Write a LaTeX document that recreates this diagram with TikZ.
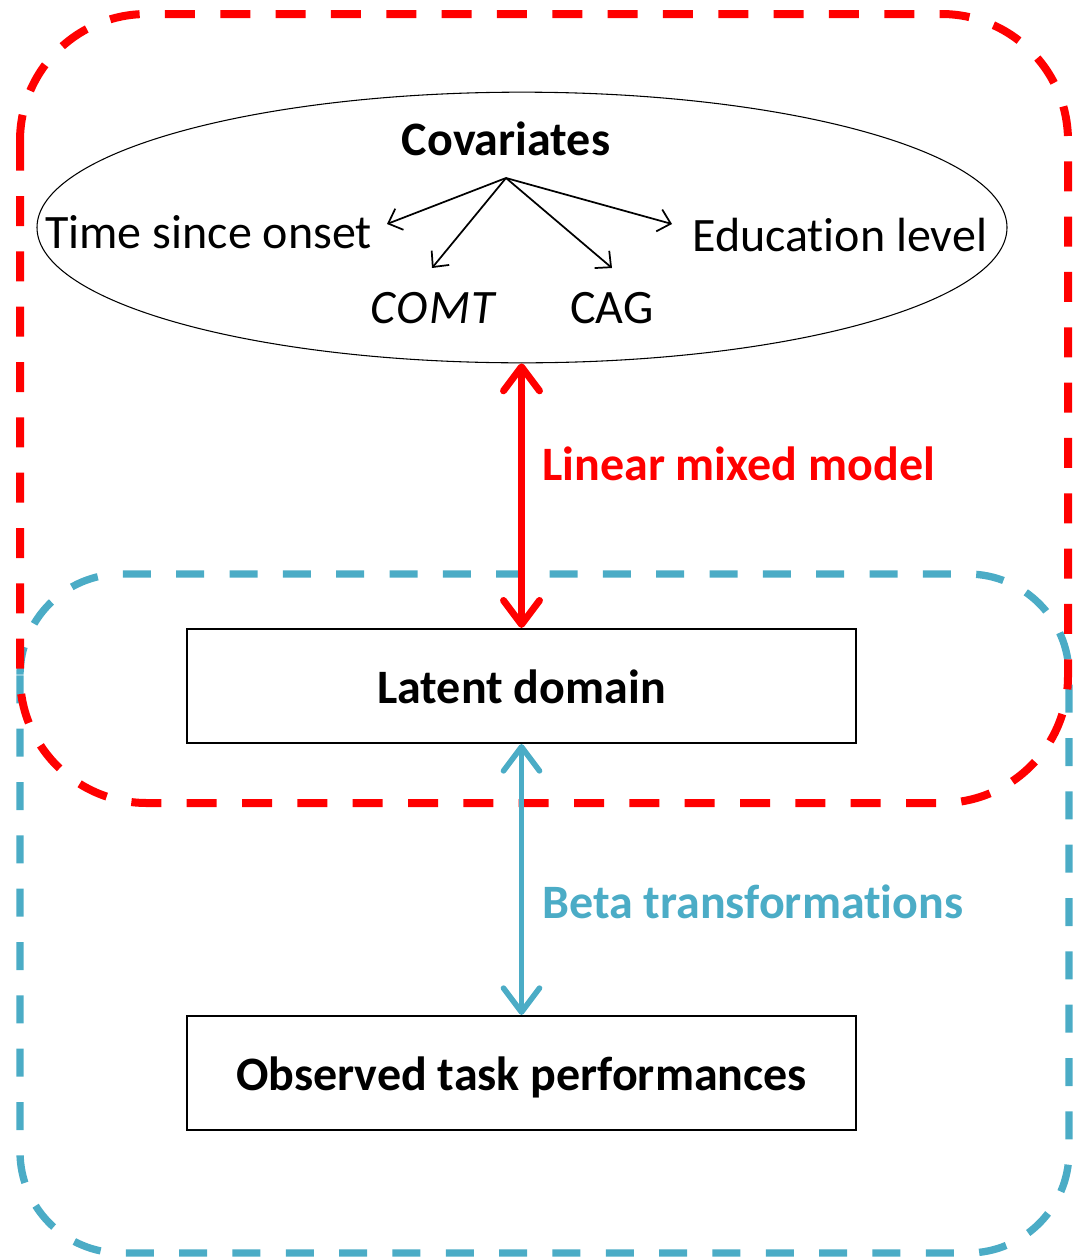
\documentclass[tikz,border=0pt]{standalone}
\usepackage{fontspec}
\setmainfont[Ligatures={NoCommon,NoRare},RawFeature={-liga;-clig;-dlig}]{Carlito}
\usetikzlibrary{arrows.meta,shapes.geometric}
\definecolor{cred}{RGB}{255,0,0}
\definecolor{cblue}{RGB}{75,172,198}
\begin{document}
\begin{tikzpicture}[x=0.75pt,y=-0.75pt,
  lbl/.style={font=\fontsize{36}{43}\selectfont, inner sep=0pt},
  blbl/.style={font=\fontsize{36}{43}\selectfont\bfseries, inner sep=0pt},
  boxnode/.style={draw, line width=1.6pt, minimum width=502pt, minimum height=85.5pt, inner sep=0pt},
  reddash/.style={draw=cred, line width=6pt, dash pattern=on 22.5pt off 19pt},
  bluedash/.style={draw=cblue, line width=5.5pt, dash pattern=on 21pt off 19pt},
  bigarrow/.style={{Straight Barb[round,length=18pt,width=27pt]}-{Straight Barb[round,length=18pt,width=27pt]}},
  smallarrow/.style={line width=1.3pt, -{Straight Barb[length=9pt,width=17pt]}}
]
\useasboundingbox (0,0) rectangle (1078,1260);

% outer dashed regions
\draw[bluedash, rounded corners=76pt] (20,574) rectangle (1069,1253);
\draw[reddash, rounded corners=95pt] (20,14) rectangle (1068,803);

% covariates ellipse
\node[ellipse, draw, line width=0.8pt, minimum width=727.5pt, minimum height=203pt, inner sep=0pt] (cov) at (522,227.5) {};
\node[blbl, anchor=base] (covt) at (506,155) {Covariates};
\node[lbl, anchor=base west] (time) at (45,248) {Time since onset};
\node[lbl, anchor=base west] (edu) at (692,251) {Education level};
\node[lbl, anchor=base west] (comt) at (370,323) {\itshape C\kern1ptO\kern1ptM\kern1ptT};
\node[lbl, anchor=base west] (cag) at (570,323) {CAG};

\coordinate (hub) at (506,178);
\coordinate (ttime) at (387,224);
\coordinate (tcomt) at (432,268);
\coordinate (tcag) at (612,268);
\coordinate (tedu) at (672,224);
\draw[smallarrow] (hub) -- (ttime);
\draw[smallarrow] (hub) -- (tcomt);
\draw[smallarrow] (hub) -- (tcag);
\draw[smallarrow] (hub) -- (tedu);

% boxes
\node[boxnode] (latent) at (521.5,686) {};
\node[blbl, anchor=base] (latentt) at (521.5,703) {Latent domain};
\node[boxnode] (obs) at (521.5,1073) {};
\node[blbl, anchor=base] (obst) at (521.5,1090) {Observed task performances};

% model arrows
\draw[bigarrow, line width=5.2pt, draw=cred] (cov.south -| latent.north) -- (latent.north);
\node[blbl, text=cred, anchor=base west] (lmm) at (542,480) {Linear mixed model};
\draw[bigarrow, line width=4.2pt, draw=cblue] (latent.south) -- (obs.north);
\node[blbl, text=cblue, anchor=base west] (beta) at (542,918) {Beta transformations};
\end{tikzpicture}
\end{document}
